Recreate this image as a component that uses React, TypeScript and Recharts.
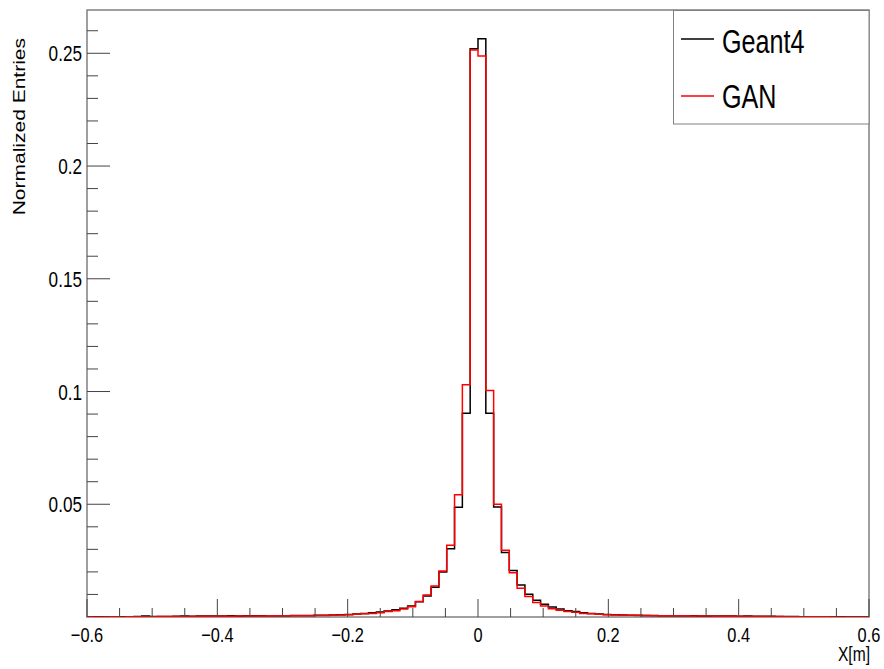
import { Line, LineChart, ReferenceArea, XAxis, YAxis } from "recharts";

// 100 bins from -0.6 to 0.6
const BIN_LOW = -0.6;
const BIN_WIDTH = 0.012;

const geant4 = [
  0, 0.0001, 0, 0.0001, 0.0001, 0.0001, 0.0002, 0.0004, 0.0002, 0.0002,
  0.0002, 0.0003, 0.0004, 0.0003, 0.0004, 0.0004, 0.0004, 0.0004, 0.0005, 0.0004,
  0.0005, 0.0005, 0.0005, 0.0005, 0.0006, 0.0006, 0.0007, 0.0007, 0.0007, 0.0008,
  0.0008, 0.0009, 0.001, 0.0011, 0.0013, 0.0016, 0.0019, 0.0022, 0.0027, 0.0032,
  0.0039, 0.0049, 0.0068, 0.0093, 0.0132, 0.02, 0.0303, 0.0487, 0.0904, 0.252,
  0.2565, 0.0904, 0.0488, 0.0286, 0.0206, 0.0142, 0.0101, 0.0074, 0.0056, 0.0044,
  0.0036, 0.0028, 0.0024, 0.0019, 0.0016, 0.0013, 0.0011, 0.001, 0.0009, 0.0008,
  0.0008, 0.0007, 0.0007, 0.0006, 0.0006, 0.0005, 0.0005, 0.0005, 0.0004, 0.0004,
  0.0004, 0.0004, 0.0004, 0.0003, 0.0004, 0.0003, 0.0003, 0.0003, 0.0002, 0.0002,
  0.0002, 0.0001, 0.0001, 0.0001, 0.0001, 0, 0.0001, 0, 0, 0,
];

const gan = [
  0, 0, 0, 0.0001, 0, 0.0001, 0.0001, 0.0001, 0.0001, 0.0002,
  0.0002, 0.0002, 0.0002, 0.0002, 0.0003, 0.0003, 0.0003, 0.0003, 0.0003, 0.0004,
  0.0004, 0.0004, 0.0004, 0.0005, 0.0005, 0.0005, 0.0006, 0.0006, 0.0006, 0.0007,
  0.0007, 0.0008, 0.0009, 0.001, 0.0012, 0.0014, 0.0016, 0.0019, 0.0024, 0.0028,
  0.0035, 0.0045, 0.0069, 0.0098, 0.0137, 0.0204, 0.0318, 0.0542, 0.103, 0.2515,
  0.2488, 0.1004, 0.05, 0.0296, 0.0196, 0.0127, 0.0091, 0.0064, 0.0049, 0.0037,
  0.003, 0.0024, 0.0021, 0.0016, 0.0014, 0.0012, 0.001, 0.0009, 0.0008, 0.0008,
  0.0007, 0.0007, 0.0006, 0.0006, 0.0005, 0.0005, 0.0005, 0.0004, 0.0004, 0.0004,
  0.0003, 0.0003, 0.0003, 0.0003, 0.0002, 0.0002, 0.0002, 0.0002, 0.0002, 0.0001,
  0.0001, 0.0001, 0.0001, 0.0001, 0.0001, 0, 0, 0, 0, 0,
];

const xTicks = [
  -0.6, -0.55, -0.5, -0.45, -0.4, -0.35, -0.3, -0.25, -0.2, -0.15, -0.1, -0.05,
  0, 0.05, 0.1, 0.15, 0.2, 0.25, 0.3, 0.35, 0.4, 0.45, 0.5, 0.55, 0.6,
];
const xLabels = [-0.6, -0.4, -0.2, 0, 0.2, 0.4, 0.6];

const yTicks = [
  0.01, 0.02, 0.03, 0.04, 0.05, 0.06, 0.07, 0.08, 0.09, 0.1, 0.11, 0.12, 0.13,
  0.14, 0.15, 0.16, 0.17, 0.18, 0.19, 0.2, 0.21, 0.22, 0.23, 0.24, 0.25, 0.26,
];
const yLabels = [0.05, 0.1, 0.15, 0.2, 0.25];

const Y_MAX = 0.2692;
const FONT = "'Liberation Sans', Arial, Helvetica, sans-serif";
const SQUEEZE = 0.78;
const TICK_COLOR = "#444";

const data = geant4.map((v, i) => ({
  x: Number((BIN_LOW + i * BIN_WIDTH).toFixed(3)),
  geant4: v,
  gan: gan[i],
}));
data.push({ x: 0.6, geant4: geant4[99], gan: gan[99] });

const fmt = (v: number) => (v < 0 ? "\u2212" + String(-v) : String(v));

const XTick = ({ x, y, payload }: any) => {
  const v = payload.value;
  const major = xLabels.some((l) => Math.abs(l - v) < 1e-6);
  return (
    <g>
      <line x1={x} y1={y} x2={x} y2={y - (major ? 18 : 9)} stroke={TICK_COLOR} />
      {major && (
        <text
          transform={`translate(${x},${y + 25}) scale(${SQUEEZE},1)`}
          textAnchor="middle"
          fontFamily={FONT}
          fontSize={21}
          fill="#000"
        >
          {fmt(v)}
        </text>
      )}
    </g>
  );
};

const YTick = ({ x, y, payload }: any) => {
  const v = payload.value;
  const major = yLabels.some((l) => Math.abs(l - v) < 1e-6);
  return (
    <g>
      <line x1={x} y1={y} x2={x + (major ? 23 : 11)} y2={y} stroke={TICK_COLOR} />
      {major && (
        <text
          transform={`translate(${x - 5},${y + 8}) scale(${SQUEEZE},1)`}
          textAnchor="end"
          fontFamily={FONT}
          fontSize={22}
          fill="#000"
        >
          {fmt(v)}
        </text>
      )}
    </g>
  );
};

const Overlay = () => (
  <svg
    width={884}
    height={669}
    style={{ position: "absolute", left: 0, top: 0, pointerEvents: "none" }}
  >
    <text
      transform={`translate(25,38) scale(${SQUEEZE},1) rotate(-90)`}
      textAnchor="end"
      fontFamily={FONT}
      fontSize={21}
      fill="#000"
    >
      Normalized Entries
    </text>
    <text
      transform={`translate(870,661) scale(${SQUEEZE},1)`}
      textAnchor="end"
      fontFamily={FONT}
      fontSize={20}
      fill="#000"
    >
      X[m]
    </text>
    <rect x={673.5} y={10.5} width={195.5} height={113.5} fill="#fff" stroke="#808080" />
    <line x1={681} y1={39} x2={714} y2={39} stroke="#000" strokeWidth={1.5} />
    <text
      transform={`translate(722,53) scale(0.74,1)`}
      fontFamily={FONT}
      fontSize={34}
      fill="#000"
    >
      Geant4
    </text>
    <line x1={681} y1={96} x2={714} y2={96} stroke="#ff0000" strokeWidth={1.5} />
    <text
      transform={`translate(722,108) scale(0.74,1)`}
      fontFamily={FONT}
      fontSize={34}
      fill="#000"
    >
      GAN
    </text>
  </svg>
);

export default function App() {
  return (
    <div style={{ position: "absolute", left: 0, top: 0, width: 884, height: 669, background: "#fff" }}>
      <LineChart
        width={884}
        height={669}
        data={data}
        margin={{ top: 10, right: 15, bottom: 0, left: 0 }}
      >
        <XAxis
          type="number"
          dataKey="x"
          domain={[-0.6, 0.6]}
          ticks={xTicks}
          interval={0}
          height={52}
          axisLine={false}
          tickLine={false}
          tickSize={0}
          tickMargin={0}
          tick={<XTick />}
          allowDataOverflow
        />
        <YAxis
          type="number"
          domain={[0, Y_MAX]}
          ticks={yTicks}
          interval={0}
          width={87}
          axisLine={false}
          tickLine={false}
          tickSize={0}
          tickMargin={0}
          tick={<YTick />}
          allowDataOverflow
        />
        <ReferenceArea
          x1={-0.6}
          x2={0.6}
          y1={0}
          y2={Y_MAX}
          fill="none"
          stroke="#808080"
          strokeWidth={1.5}
        />
        <Line
          dataKey="geant4"
          type="stepAfter"
          stroke="#000"
          strokeWidth={1.5}
          dot={false}
          isAnimationActive={false}
        />
        <Line
          dataKey="gan"
          type="stepAfter"
          stroke="#ff0000"
          strokeWidth={1.5}
          dot={false}
          isAnimationActive={false}
        />
      </LineChart>
      <Overlay />
    </div>
  );
}
